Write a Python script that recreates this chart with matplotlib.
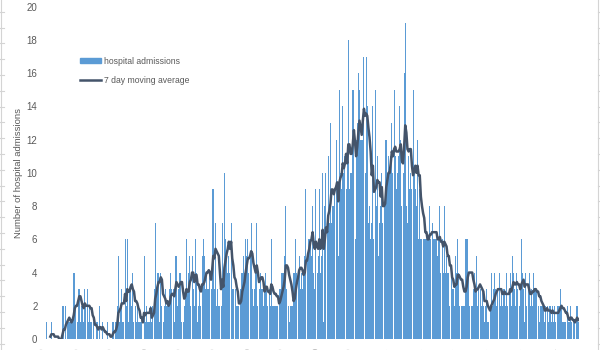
import numpy as np
import pandas as pd
import matplotlib.pyplot as plt
from matplotlib.lines import Line2D

plt.rcParams["font.family"] = ["Liberation Sans", "DejaVu Sans"]

# Daily hospital admissions from 1 March 2020, one row per week
admissions = [
    0, 0, 0, 1, 0, 0, 0,
    1, 0, 0, 0, 0, 0, 0,
    0, 0, 0, 2, 2, 0, 2,
    1, 1, 1, 1, 1, 1, 4,
    4, 2, 1, 3, 3, 1, 2,
    2, 1, 3, 2, 3, 1, 2,
    1, 1, 0, 1, 0, 1, 1,
    0, 2, 0, 0, 1, 0, 0,
    0, 1, 0, 0, 0, 0, 1,
    1, 1, 1, 2, 5, 1, 2,
    3, 1, 1, 6, 2, 6, 1,
    3, 3, 2, 4, 1, 2, 1,
    2, 1, 1, 1, 1, 0, 5,
    1, 2, 1, 1, 1, 2, 1,
    2, 3, 7, 3, 4, 4, 1,
    4, 2, 1, 2, 3, 2, 2,
    2, 3, 4, 3, 3, 1, 5,
    5, 2, 3, 4, 4, 1, 1,
    2, 3, 6, 3, 4, 5, 2,
    5, 3, 2, 6, 4, 1, 2,
    3, 2, 5, 6, 5, 3, 4,
    3, 3, 4, 3, 9, 9, 3,
    7, 2, 3, 2, 2, 2, 7,
    4, 10, 6, 5, 4, 5, 4,
    7, 3, 3, 0, 3, 2, 2,
    2, 3, 4, 4, 5, 4, 6,
    5, 6, 4, 5, 7, 3, 2,
    3, 4, 7, 2, 3, 4, 3,
    3, 2, 3, 4, 3, 2, 3,
    2, 6, 2, 2, 2, 2, 2,
    2, 3, 3, 4, 4, 4, 5,
    8, 3, 2, 1, 2, 2, 2,
    4, 4, 6, 4, 4, 5, 3,
    4, 3, 4, 5, 9, 5, 6,
    6, 6, 5, 8, 4, 3, 9,
    4, 5, 9, 4, 5, 10, 1,
    8, 10, 7, 11, 7, 13, 7,
    8, 8, 9, 12, 9, 5, 15,
    10, 9, 14, 10, 11, 9, 11,
    18, 9, 10, 10, 15, 15, 6,
    12, 13, 16, 15, 12, 12, 12,
    17, 10, 17, 14, 7, 8, 6,
    7, 14, 6, 15, 8, 11, 5,
    7, 8, 10, 7, 8, 12, 12,
    10, 11, 10, 11, 13, 10, 15,
    11, 9, 10, 11, 14, 12, 8,
    10, 16, 19, 8, 7, 11, 9,
    10, 9, 15, 10, 9, 8, 12,
    6, 9, 6, 6, 6, 6, 6,
    6, 6, 6, 8, 6, 7, 6,
    6, 6, 6, 5, 6, 8, 4,
    6, 4, 8, 4, 5, 4, 4,
    2, 4, 3, 3, 2, 5, 4,
    6, 4, 2, 2, 2, 2, 2,
    6, 6, 6, 4, 2, 2, 2,
    3, 4, 3, 5, 2, 3, 3,
    2, 3, 2, 1, 2, 3, 1,
    1, 2, 4, 2, 3, 4, 3,
    2, 3, 4, 2, 3, 2, 3,
    3, 2, 4, 2, 3, 4, 2,
    5, 4, 3, 2, 4, 3, 2,
    3, 6, 4, 3, 1, 4, 2,
    3, 4, 2, 3, 2, 4, 3,
    3, 3, 2, 1, 2, 2, 2,
    2, 1, 2, 2, 1, 2, 2,
    1, 2, 1, 2, 1, 2, 2,
    2, 3, 2, 1, 1, 1, 1,
    2, 1, 1, 2, 1, 0, 1,
    1, 2, 2, 1,
]
start_date = "2020-03-01"

BAR_COLOR = "#5b9bd5"
LINE_COLOR = "#44546a"
TEXT_COLOR = "#595959"
CELL_COLOR = "#d4d4d4"

days = pd.date_range(start_date, periods=len(admissions), freq="D")
moving_avg = pd.Series(admissions, dtype=float).rolling(7).mean()
x = np.arange(len(admissions))

fig = plt.figure(figsize=(6, 3.5), dpi=100)
ax = fig.add_axes([0.0717, 0.0314, 0.893, 0.9495])

ax.bar(x, admissions, width=0.9, color=BAR_COLOR, linewidth=0)
ax.plot(x, moving_avg, color=LINE_COLOR, linewidth=1.8)

ax.set_ylim(0, 20)
ax.set_xlim(-0.5, len(admissions) - 0.5)
ax.set_yticks(range(0, 21, 2))
ax.tick_params(axis="y", length=0, labelsize=7, colors=TEXT_COLOR, pad=4)

# one date label per month start; they hang below the chart area
month_starts = [i for i, d in enumerate(days) if d.day == 1]
ax.set_xticks([i - 0.5 for i in month_starts])
ax.set_xticklabels([days[i].strftime("%d/%m/%Y") for i in month_starts],
                   rotation=90, fontsize=7, color=TEXT_COLOR)
ax.tick_params(axis="x", length=0, pad=6)

for spine in ax.spines.values():
    spine.set_visible(False)

ax.set_ylabel("Number of hospital admissions", fontsize=6.8, color=TEXT_COLOR,
              labelpad=2.5)

handles = [
    plt.Rectangle((0, 0), 1, 1, color=BAR_COLOR),
    Line2D([], [], color=LINE_COLOR, linewidth=1.8),
]
leg = ax.legend(handles, ["hospital admissions", "7 day moving average"],
                loc="upper left", bbox_to_anchor=(0.1203, 0.8606),
                bbox_transform=fig.transFigure, frameon=False,
                fontsize=6.2, handlelength=2.5, handleheight=0.55,
                handletextpad=0.25, labelspacing=1.25)
for t in leg.get_texts():
    t.set_color(TEXT_COLOR)

# spreadsheet cell borders showing at the left and right edges
for xp, x0, x1 in ((1.0, 0.0, 3.5), (597.5, 597.5, 600.0)):
    fig.add_artist(Line2D([xp / 600, xp / 600], [0, 1], transform=fig.transFigure,
                          color=CELL_COLOR, linewidth=0.8))
    for yp in np.arange(11.8, 350, 15.8):
        fig.add_artist(Line2D([x0 / 600, x1 / 600], [1 - yp / 350] * 2,
                              transform=fig.transFigure, color=CELL_COLOR,
                              linewidth=0.8))

fig.savefig("out.png", dpi=100, facecolor="white")
